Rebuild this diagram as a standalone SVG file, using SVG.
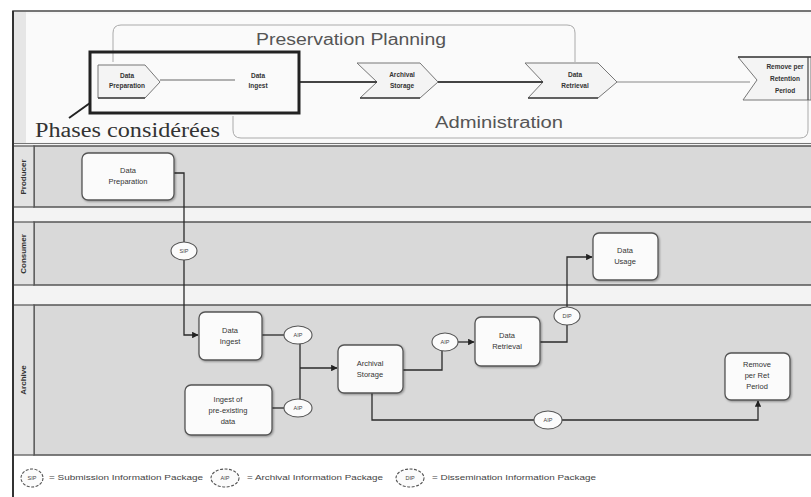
<svg xmlns="http://www.w3.org/2000/svg" width="811" height="497" viewBox="0 0 811 497">
  <defs>
    <marker id="arr" viewBox="0 0 10 10" refX="9" refY="5" markerWidth="5" markerHeight="5" orient="auto">
      <path d="M0,0 L10,5 L0,10 z" fill="#222"/>
    </marker>
    <filter id="shadow" x="-10%" y="-10%" width="130%" height="130%">
      <feGaussianBlur in="SourceAlpha" stdDeviation="1"/>
      <feOffset dx="1" dy="1"/>
      <feComponentTransfer><feFuncA type="linear" slope="0.35"/></feComponentTransfer>
      <feMerge><feMergeNode/><feMergeNode in="SourceGraphic"/></feMerge>
    </filter>
  </defs>
  <style>
    .lane { fill: #d9d9d9; stroke: #555; stroke-width: 1.5; }
    .gap { fill: #f3f3f3; }
    .lbl { fill: #e2e2e2; stroke: #555; stroke-width: 1.2; }
    .lanetxt { font-family: "Liberation Sans", Arial, sans-serif; font-size: 8px; font-weight: bold; fill: #333; text-anchor: middle; }
    .box { fill: #fbfbfb; stroke: #555; stroke-width: 1.3; filter: url(#shadow); }
    .btxt { font-family: "Liberation Sans", Arial, sans-serif; font-size: 7.5px; fill: #333; text-anchor: middle; }
    .chev { fill: #f4f4f4; stroke: #777; stroke-width: 1; }
    .ctxt { font-family: "Liberation Sans", Arial, sans-serif; font-size: 6.5px; font-weight: bold; fill: #333; text-anchor: middle; }
    .pkg { fill: #fbfbfb; stroke: #555; stroke-width: 1.1; }
    .ptxt { font-family: "Liberation Sans", Arial, sans-serif; font-size: 5.5px; fill: #444; text-anchor: middle; }
    .conn { fill: none; stroke: #2a2a2a; stroke-width: 1.3; }
    .frame { fill: none; stroke: #aaa; stroke-width: 1; }
    .big { font-family: "Liberation Sans", Arial, sans-serif; font-size: 16px; fill: #555; }
    .leg { font-family: "Liberation Sans", Arial, sans-serif; font-size: 6.5px; fill: #444; }
  </style>

  <!-- page background -->
  <rect x="0" y="0" width="811" height="497" fill="#ffffff"/>

  <!-- header band with the OAIS functional phases -->
  <g id="header">
    <rect x="13" y="11" width="800" height="133" fill="#f6f6f6" stroke="#555" stroke-width="1.6"/>
    <rect x="14" y="12" width="12" height="131" fill="#e6e6e6"/>
    <rect x="26" y="14" width="785" height="128" fill="#fafafa"/>
    <path class="frame" d="M113,62 V33 Q113,25 121,25 H567 Q575,25 575,33 V62"/>
    <path class="frame" d="M233,116 V130 Q233,138 241,138 H800 Q808,138 808,130 V57"/>
    <text class="big" x="256" y="45" textLength="190" lengthAdjust="spacingAndGlyphs">Preservation Planning</text>
    <text class="big" x="435" y="128" textLength="128" lengthAdjust="spacingAndGlyphs">Administration</text>
  </g>

  <g id="phase-prep">
    <path class="chev" d="M98,65 H145 L160,82 L145,98 H98 Z"/>
    <line x1="98" y1="98" x2="145" y2="98" stroke="#444" stroke-width="1.5"/>
    <text class="ctxt" x="127" y="78">Data</text>
    <text class="ctxt" x="127" y="88">Preparation</text>
  </g>
  <g id="phase-ingest">
    <text class="ctxt" x="258" y="78">Data</text>
    <text class="ctxt" x="258" y="88">Ingest</text>
  </g>
  <g id="phase-storage">
    <path class="chev" d="M357,63 H420 L438,82 L420,98 H360 L377,82 Z"/>
    <line x1="360" y1="98" x2="420" y2="98" stroke="#444" stroke-width="1.5"/>
    <text class="ctxt" x="402" y="77">Archival</text>
    <text class="ctxt" x="402" y="88">Storage</text>
  </g>
  <g id="phase-retrieval">
    <path class="chev" d="M525,63 H598 L617,82 L598,98 H528 L543,82 Z"/>
    <line x1="528" y1="98" x2="598" y2="98" stroke="#444" stroke-width="1.5"/>
    <text class="ctxt" x="575" y="77">Data</text>
    <text class="ctxt" x="575" y="88">Retrieval</text>
  </g>
  <g id="phase-remove">
    <path class="chev" d="M738,57 H811 V100 H743 L757,80 Z"/>
    <line x1="738" y1="57" x2="811" y2="57" stroke="#444" stroke-width="1.5"/>
    <line x1="808" y1="57" x2="808" y2="100" stroke="#444" stroke-width="1.2"/>
    <text class="ctxt" x="785" y="69">Remove per</text>
    <text class="ctxt" x="785" y="81">Retention</text>
    <text class="ctxt" x="785" y="93">Period</text>
  </g>

  <g id="phase-links">
    <line x1="160" y1="80" x2="235" y2="80" stroke="#666" stroke-width="1.2"/>
    <line x1="300" y1="82" x2="377" y2="82" stroke="#444" stroke-width="2"/>
    <line x1="438" y1="82" x2="543" y2="82" stroke="#444" stroke-width="2"/>
    <line x1="617" y1="82" x2="750" y2="82" stroke="#888" stroke-width="1"/>
  </g>

  <g id="phases-considered">
    <rect x="90" y="52" width="209" height="61" fill="none" stroke="#222" stroke-width="3"/>
    <line x1="69" y1="118" x2="90" y2="103" stroke="#222" stroke-width="2"/>
    <text x="35" y="137" font-family="Liberation Serif, 'Times New Roman', serif" font-size="20" fill="#333" textLength="185" lengthAdjust="spacingAndGlyphs">Phases considérées</text>
  </g>

  <!-- swimlanes -->
  <g id="lanes">
    <rect class="gap" x="13" y="144" width="798" height="312"/>
    <rect class="lane" x="34" y="146" width="780" height="61"/>
    <rect class="lane" x="34" y="222" width="780" height="63"/>
    <rect class="lane" x="34" y="305" width="780" height="150"/>
    <rect class="lbl" x="13" y="146" width="21" height="61"/>
    <rect class="lbl" x="13" y="222" width="21" height="63"/>
    <rect class="lbl" x="13" y="305" width="21" height="150"/>
    <text class="lanetxt" transform="translate(26,177) rotate(-90)">Producer</text>
    <text class="lanetxt" transform="translate(26,254) rotate(-90)">Consumer</text>
    <text class="lanetxt" transform="translate(26,380) rotate(-90)">Archive</text>
    <line x1="13" y1="11" x2="13" y2="497" stroke="#333" stroke-width="2"/>
  </g>

  <!-- connectors -->
  <g id="connectors">
    <path class="conn" d="M174,173 H184 V242"/>
    <path class="conn" d="M184,260 V335 H198" marker-end="url(#arr)"/>
    <path class="conn" d="M262,335 H284"/>
    <path class="conn" d="M272,408 H284"/>
    <path class="conn" d="M300,344 V399" stroke-width="2"/>
    <path class="conn" d="M300,368 H337" marker-end="url(#arr)"/>
    <path class="conn" d="M403,370 H442 V351"/>
    <path class="conn" d="M458,342 H474" marker-end="url(#arr)"/>
    <path class="conn" d="M540,342 H567 V325"/>
    <path class="conn" d="M567,307 V257 H592" marker-end="url(#arr)"/>
    <path class="conn" d="M372,393 V420 H534"/>
    <path class="conn" d="M562,420 H758 V401" marker-end="url(#arr)"/>
  </g>

  <!-- information packages -->
  <g id="packages">
    <ellipse class="pkg" cx="184" cy="251" rx="13" ry="9"/>
    <text class="ptxt" x="184" y="253">SIP</text>
    <ellipse class="pkg" cx="298" cy="335" rx="14" ry="9"/>
    <text class="ptxt" x="298" y="337">AIP</text>
    <ellipse class="pkg" cx="298" cy="408" rx="14" ry="9"/>
    <text class="ptxt" x="298" y="410">AIP</text>
    <ellipse class="pkg" cx="445" cy="342" rx="13" ry="9"/>
    <text class="ptxt" x="445" y="344">AIP</text>
    <ellipse class="pkg" cx="567" cy="316" rx="13" ry="9"/>
    <text class="ptxt" x="567" y="318">DIP</text>
    <ellipse class="pkg" cx="548" cy="420" rx="14" ry="9"/>
    <text class="ptxt" x="548" y="422">AIP</text>
  </g>

  <!-- process nodes -->
  <g id="producer-data-preparation">
    <rect class="box" x="82" y="153" width="92" height="47" rx="6"/>
    <text class="btxt" x="128" y="173">Data</text>
    <text class="btxt" x="128" y="184">Preparation</text>
  </g>
  <g id="consumer-data-usage">
    <rect class="box" x="593" y="233" width="65" height="47" rx="6"/>
    <text class="btxt" x="625" y="253">Data</text>
    <text class="btxt" x="625" y="264">Usage</text>
  </g>
  <g id="archive-data-ingest">
    <rect class="box" x="199" y="312" width="63" height="48" rx="6"/>
    <text class="btxt" x="230" y="333">Data</text>
    <text class="btxt" x="230" y="344">Ingest</text>
  </g>
  <g id="archive-ingest-preexisting">
    <rect class="box" x="185" y="385" width="87" height="50" rx="6"/>
    <text class="btxt" x="228" y="402">Ingest of</text>
    <text class="btxt" x="228" y="413">pre-existing</text>
    <text class="btxt" x="228" y="424">data</text>
  </g>
  <g id="archive-archival-storage">
    <rect class="box" x="338" y="345" width="65" height="48" rx="6"/>
    <text class="btxt" x="370" y="366">Archival</text>
    <text class="btxt" x="370" y="377">Storage</text>
  </g>
  <g id="archive-data-retrieval">
    <rect class="box" x="475" y="317" width="65" height="49" rx="6"/>
    <text class="btxt" x="507" y="338">Data</text>
    <text class="btxt" x="507" y="349">Retrieval</text>
  </g>
  <g id="archive-remove">
    <rect class="box" x="725" y="353" width="65" height="47" rx="6"/>
    <text class="btxt" x="757" y="367">Remove</text>
    <text class="btxt" x="757" y="378">per Ret</text>
    <text class="btxt" x="757" y="389">Period</text>
  </g>

  <!-- legend -->
  <g id="legend">
    <ellipse class="pkg" cx="32" cy="478" rx="11" ry="9" stroke-dasharray="3,1.5"/>
    <text class="ptxt" x="32" y="480">SIP</text>
    <text class="leg" x="49" y="480" textLength="154" lengthAdjust="spacingAndGlyphs">= Submission Information Package</text>
    <ellipse class="pkg" cx="225" cy="478" rx="14" ry="9" stroke-dasharray="3,1.5"/>
    <text class="ptxt" x="225" y="480">AIP</text>
    <text class="leg" x="247" y="480" textLength="136" lengthAdjust="spacingAndGlyphs">= Archival Information Package</text>
    <ellipse class="pkg" cx="410" cy="478" rx="14" ry="9" stroke-dasharray="3,1.5"/>
    <text class="ptxt" x="410" y="480">DIP</text>
    <text class="leg" x="432" y="480" textLength="164" lengthAdjust="spacingAndGlyphs">= Dissemination Information Package</text>
  </g>
</svg>
